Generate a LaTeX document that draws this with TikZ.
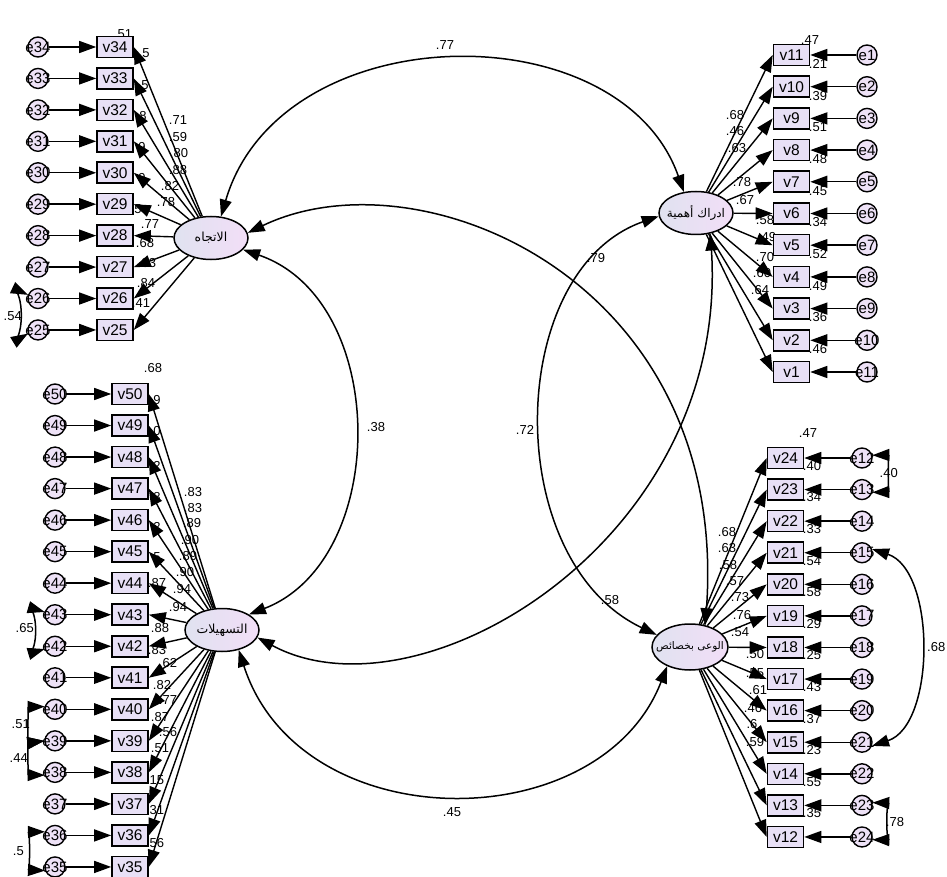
\documentclass[tikz,border=0pt]{standalone}
\usepackage{fontspec}
\setmainfont{Liberation Sans}
\newfontfamily\arabicfont[Script=Arabic]{DejaVu Sans}
\TeXXeTstate=1
\usetikzlibrary{shapes.geometric,arrows.meta}
\definecolor{boxfill}{RGB}{232,224,246}
\definecolor{latL}{RGB}{224,226,240}
\definecolor{latR}{RGB}{242,222,247}
\definecolor{errfill}{RGB}{238,226,247}
\tikzset{
 vbox/.style={draw, line width=1.6pt, fill=boxfill, minimum width=36pt, minimum height=21pt, inner sep=0pt, font=\fontsize{15.5}{15.5}\selectfont},
 lat/.style={ellipse, draw, line width=1.5pt, left color=latL, right color=latR, minimum width=74pt, minimum height=43pt, inner sep=0pt},
 latlab/.style={inner sep=0pt, font=\arabicfont\fontsize{12}{12}\selectfont},
 errc/.style={circle, draw, line width=1.4pt, fill=errfill, minimum size=20pt, inner sep=0pt},
 errlab/.style={font=\fontsize{15}{15}\selectfont, inner sep=0pt},
 num/.style={font=\fontsize{13}{13}\selectfont, inner sep=0pt},
 bigtri/.tip={Triangle[length=17pt,width=12pt]},
 arr/.style={-bigtri, line width=1.4pt},
 cov/.style={bigtri-bigtri, line width=1.5pt},
}
\begin{document}
\begin{tikzpicture}[x=1pt,y=-1pt]
\useasboundingbox (0,0) rectangle (947,877);

% ---------- labels (drawn first, arrows go over them) ----------
\foreach \t/\x/\y [count=\k] in {.51/123/34, 5/146/53, 5/145/85, 8/143/116, 9/142/147, 9/142/178,
  .71/178/120, .59/178/137, .80/179/153, .88/178/170, .82/170/186, .78/166/202,
  5/138/209, .77/150/224, .68/145/243, .83/147/263, .84/146/283, .41/141/303}
  \node[num] (ltl\k) at (\x,\y) {\t};
\foreach \t/\x/\y [count=\k] in {.47/810/40, .21/818/64, .39/818/96, .51/818/127, .48/818/159, .45/818/191,
  .34/818/222, .52/818/254, .49/818/286, .36/818/317, .46/818/349,
  .68/735/115, .46/735/131, .63/737/148, .78/742/182, .67/745/200, .58/765/220,
  .49/767/237, .70/765/257, .60/762/273, .64/760/290}
  \node[num] (ltr\k) at (\x,\y) {\t};
\foreach \t/\x/\y [count=\k] in {.68/153/368, 9/157/400, 0/157/431, 2/157/466, 8/157/497, 2/157/527, 5/157/557, .87/157/583,
  .83/193/492, .83/193/508, .89/192/523, .90/190/540, .89/188/556, .90/185/572, .94/182/589, .94/178/607,
  .88/160/628, .83/157/650, .62/168/663, .82/162/685, .77/168/700, .87/160/717, .56/168/732, .51/160/748,
  .15/155/780, .31/155/810, .56/155/843}
  \node[num] (lbl\k) at (\x,\y) {\t};
\foreach \t/\x/\y [count=\k] in {.47/808/433, .40/812/466, .34/812/497, .33/812/529, .54/812/561, .58/812/592,
  .29/812/624, .25/812/655, .43/812/687, .37/812/719, .23/812/750, .55/812/782, .35/812/813,
  .68/727/532, .63/727/548, .58/728/565, .57/735/581, .73/740/597, .76/742/615, .54/740/632,
  .50/755/654, .55/755/673, .61/758/690, .46/753/708, .6/752/724, .59/755/742}
  \node[num] (lbr\k) at (\x,\y) {\t};

% latent covariance labels
\node[num] (c77) at (445,45) {.77};
\node[num] (c38) at (376,427) {.38};
\node[num] (c79) at (596,258) {.79};
\node[num] (c72) at (525,430) {.72};
\node[num] (c58) at (610,600) {.58};
\node[num] (c45) at (452,812) {.45};
% error covariance labels
\node[num, anchor=east] (k54) at (22,316) {.54};
\node[num, anchor=east] (k65) at (34,628) {.65};
\node[num, anchor=east] (k51) at (30,724) {.51};
\node[num, anchor=east] (k44) at (28,758) {.44};
\node[num, anchor=east] (k5) at (24,851) {.5};
\node[num, anchor=east] (k40) at (898,473) {.40};
\node[num, anchor=west] (k68) at (927,647) {.68};
\node[num] (k78) at (895,822) {.78};

% ---------- latent variables ----------
\node[lat, label={[latlab, font=\arabicfont\fontsize{12.5}{12.5}\selectfont]center:{\beginR الاتجاه\endR}}] (A) at (211,238) {};
\node[lat, label={[latlab]center:{\beginR ادراك أهمية\endR}}] (B) at (696,213) {};
\node[lat, label={[latlab, font=\arabicfont\fontsize{12.5}{12.5}\selectfont]center:{\beginR التسهيلات\endR}}] (C) at (222,630) {};
\node[lat, minimum width=76pt, minimum height=46pt, label={[latlab, font=\arabicfont\fontsize{10.5}{10.5}\selectfont]center:{\beginR الوعى بخصائص\endR}}] (D) at (690,647) {};

% ---------- top-left block ----------
\foreach \n [count=\k from 0] in {34,33,...,25} {
  \node[vbox] (v\n) at (115,{47+31.44*\k}) {v\n};
  \node[errc, label={[errlab]center:e\n}] (e\n) at (38,{47+31.44*\k}) {};
  \draw[arr] (e\n) -- (v\n);
  \draw[arr] (A) -- (v\n.east);
}
% ---------- top-right block ----------
\foreach \n [count=\k from 0] in {11,10,...,1} {
  \pgfmathtruncatemacro\ei{12-\n}
  \node[vbox] (v\n) at (791.5,{55+31.7*\k}) {v\n};
  \node[errc, label={[errlab]center:e\ei}] (e\ei) at (867,{55+31.7*\k}) {};
  \draw[arr] (e\ei) -- (v\n);
  \draw[arr] (B) -- (v\n.west);
}
% ---------- bottom-left block ----------
\foreach \n [count=\k from 0] in {50,49,...,35} {
  \node[vbox] (v\n) at (130,{394+31.53*\k}) {v\n};
  \node[errc, label={[errlab]center:e\n}] (e\n) at (55,{394+31.53*\k}) {};
  \draw[arr] (e\n) -- (v\n);
  \draw[arr] (C) -- (v\n.east);
}
% ---------- bottom-right block ----------
\foreach \n [count=\k from 0] in {24,23,...,12} {
  \pgfmathtruncatemacro\ei{36-\n}
  \node[vbox] (v\n) at (785.5,{458+31.58*\k}) {v\n};
  \node[errc, label={[errlab]center:e\ei}] (e\ei) at (862,{458+31.58*\k}) {};
  \draw[arr] (e\ei) -- (v\n);
  \draw[arr] (D) -- (v\n.west);
}

% ---------- latent covariances ----------
\draw[cov] (A.65) .. controls (280,15) and (620,10) .. (B.120);
\draw[cov] (A.-20) .. controls (390,300) and (390,560) .. (C.30);
\draw[cov] (A.8) .. controls (420,150) and (730,280) .. (D.55);
\draw[cov] (B.185) .. controls (505,270) and (500,560) .. (D.160);
\draw[cov] (C.-12) .. controls (420,725) and (730,540) .. (B.-55);
\draw[cov] (C.-50) .. controls (300,840) and (600,840) .. (D.-140);

% ---------- error covariances ----------
\draw[cov] (e26.160) .. controls (24,293) and (24,336) .. (e25.200);
\draw[cov] (e43.165) .. controls (38,610) and (38,651) .. (e42.195);
\draw[cov] (e40.165) .. controls (28,707) and (28,743) .. (e39.180);
\draw[cov] (e39.180) .. controls (28,743) and (28,775) .. (e38.195);
\draw[cov] (e36.160) .. controls (30,832) and (30,870) .. (e35.200);
\draw[cov] (e12.15) .. controls (888,455) and (888,492) .. (e13.-15);
\draw[cov] (e15.20) .. controls (936,570) and (936,725) .. (e21.-20);
\draw[cov] (e23.15) .. controls (886,803) and (886,840) .. (e24.-15);
\end{tikzpicture}
\end{document}
